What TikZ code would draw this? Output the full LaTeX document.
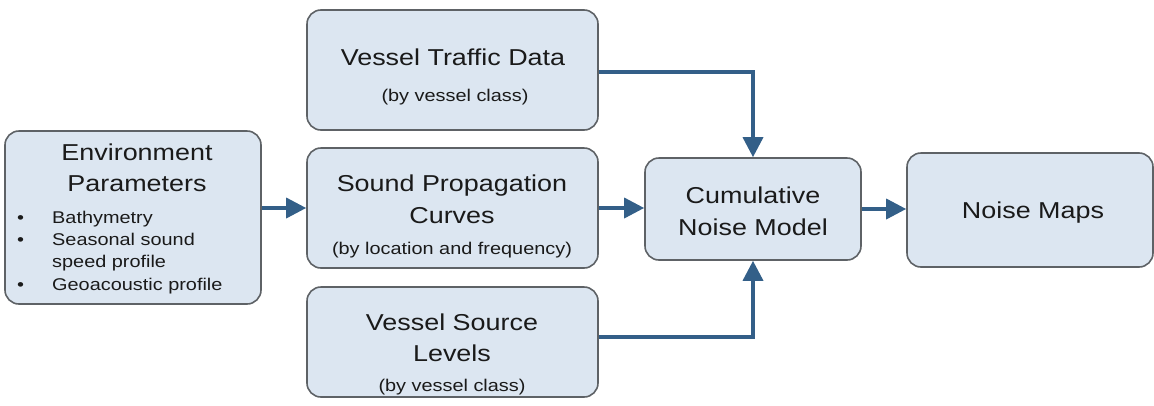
\documentclass[tikz,border=0pt]{standalone}
\usepackage{fontspec}
\setmainfont[FakeStretch=1.17]{Liberation Sans}
\usetikzlibrary{arrows.meta}
\definecolor{boxfill}{HTML}{DCE6F1}
\definecolor{boxline}{HTML}{5E6266}
\definecolor{arrowc}{HTML}{335F88}
\definecolor{txt}{HTML}{1A1A1A}
\tikzset{
  box/.style={draw=boxline, line width=1.6pt, fill=boxfill, rounded corners=14pt, inner sep=0pt},
  ttl/.style={anchor=base, inner sep=0pt, text=txt, font=\fontsize{23}{28}\selectfont},
  sub/.style={anchor=base, inner sep=0pt, text=txt, font=\fontsize{17}{20}\selectfont},
  itm/.style={anchor=base west, inner sep=0pt, text=txt, font=\fontsize{17}{20}\selectfont},
  flow/.style={draw=arrowc, line width=3.5pt, -{Triangle[length=20pt,width=20pt]}}
}
\begin{document}
\begin{tikzpicture}[x=1pt,y=-1pt]
\useasboundingbox (0,0) rectangle (1154,405);
% boxes
\node[box, minimum width=256pt, minimum height=173pt] (env) at (133,217.5) {};
\node[box, minimum width=291pt, minimum height=120pt] (traffic) at (452.5,70) {};
\node[box, minimum width=291pt, minimum height=120pt] (sound) at (452.5,208) {};
\node[box, minimum width=291pt, minimum height=110pt] (source) at (452.5,342) {};
\node[box, minimum width=216pt, minimum height=102pt] (cumul) at (753,209) {};
\node[box, minimum width=246pt, minimum height=114pt] (noise) at (1030,210) {};
% texts
\node[ttl] (envA) at (137,160) {Environment};
\node[ttl] (envB) at (137,191) {Parameters};
\node[itm] (b1) at (17,223) {•};
\node[itm] (i1) at (52,223) {Bathymetry};
\node[itm] (b2) at (17,245) {•};
\node[itm] (i2) at (52,245) {Seasonal sound};
\node[itm] (i3) at (52,267) {speed profile};
\node[itm] (b4) at (17,290) {•};
\node[itm] (i4) at (52,290) {Geoacoustic profile};
\node[ttl] (trA) at (453,65) {Vessel Traffic Data};
\node[sub] (trB) at (455,101) {(by vessel class)};
\node[ttl] (soA) at (452,191) {Sound Propagation};
\node[ttl] (soB) at (452,223) {Curves};
\node[sub] (soC) at (452,254) {(by location and frequency)};
\node[ttl] (vsA) at (452,330) {Vessel Source};
\node[ttl] (vsB) at (452,361) {Levels};
\node[sub] (vsC) at (452,391) {(by vessel class)};
\node[ttl] (cuA) at (753,203) {Cumulative};
\node[ttl] (cuB) at (753,235) {Noise Model};
\node[ttl] (nm) at (1033,218) {Noise Maps};
% connectors
\draw[flow] (env.east |- sound.west) -- (sound.west);
\draw[flow] (sound.east) -- (sound.east -| cumul.west);
\draw[flow] (cumul.east) -- (cumul.east -| noise.west);
\draw[flow] ([yshift=-2pt]traffic.east) -| (cumul.north);
\draw[flow] ([yshift=5pt]source.east) -| (cumul.south);
\end{tikzpicture}
\end{document}
